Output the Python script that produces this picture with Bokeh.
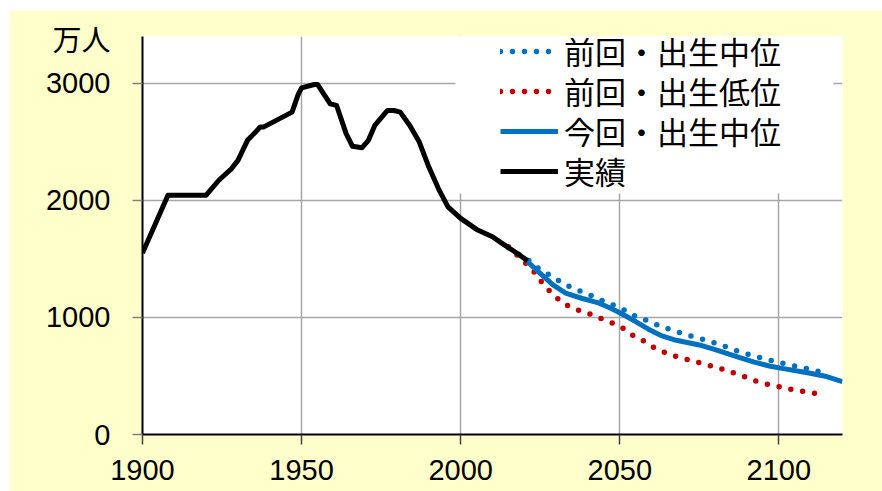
from bokeh.plotting import figure
from bokeh.models import (Range1d, FixedTicker, Legend, LegendItem, BoxAnnotation,
                          LinearAxis)
from bokeh.embed import file_html
from bokeh.resources import INLINE

# ---- data, unit: 万人 ----
years_actual = [1900, 1908, 1920, 1924, 1928, 1930, 1933, 1937, 1938, 1947, 1949, 1950,
                1954, 1955, 1959, 1961, 1964, 1966, 1969, 1971, 1973, 1977, 1979, 1981,
                1984, 1987, 1990, 1993, 1996, 2000, 2005, 2010, 2013, 2017, 2021]
pop_actual = [1550, 2044, 2044, 2172, 2272, 2342, 2513, 2626, 2626, 2754, 2910, 2961,
              2990, 2990, 2825, 2811, 2570, 2462, 2450, 2513, 2640, 2768, 2768, 2754,
              2640, 2498, 2285, 2101, 1945, 1846, 1752, 1689, 1633, 1561, 1485]

years_now_mid = [2021, 2025, 2029, 2033, 2038, 2043, 2047, 2050, 2055, 2059, 2063, 2067,
                 2075, 2080, 2086, 2092, 2097, 2101, 2109, 2115, 2120]
pop_now_mid = [1476, 1377, 1278, 1207, 1164, 1127, 1080, 1040, 965, 900, 845, 810,
               765, 725, 672, 620, 585, 565, 527, 495, 452]

years_prev_mid = [2015, 2022, 2025, 2029, 2032, 2036, 2040, 2043, 2047, 2051, 2054, 2058,
                  2062, 2066, 2070, 2074, 2078, 2082, 2085, 2089, 2093, 2097, 2101, 2105,
                  2109, 2113]
pop_prev_mid = [1595, 1476, 1405, 1348, 1292, 1241, 1201, 1161, 1118, 1070, 1022, 980,
                934, 894, 860, 829, 798, 764, 730, 696, 664, 636, 611, 585, 562, 537]

years_prev_low = [2015, 2018, 2021, 2024, 2026, 2029, 2032, 2036, 2040, 2043, 2047, 2051,
                  2054, 2058, 2061, 2065, 2069, 2073, 2077, 2081, 2085, 2089, 2092, 2096,
                  2100, 2104, 2108, 2113]
pop_prev_low = [1604, 1525, 1448, 1363, 1278, 1199, 1122, 1071, 1036, 1002, 960, 909,
                849, 792, 738, 690, 656, 627, 599, 568, 534, 496, 462, 431,
                409, 386, 366, 345]

x_ticks = [1900, 1950, 2000, 2050, 2100]
y_ticks = [0, 1000, 2000, 3000]
series_labels = ["前回・出生中位", "前回・出生低位", "今回・出生中位", "実績"]
unit_label = "万人"
unit_label_level = 3360   # where the unit text sits along the y axis

# ---- styles ----
BLUE = "#0070C0"
RED = "#C00000"
YELLOW = "#FFFFCC"
GRID = "#A6A6A6"
CJK = "Noto Sans CJK JP"
NUM = "Liberation Sans, Noto Sans CJK JP"

p = figure(width=873, height=481, output_backend="svg", toolbar_location=None,
           x_range=Range1d(1900, 2120), y_range=Range1d(0, 3400),
           min_border_left=133, min_border_right=40, min_border_top=26,
           min_border_bottom=57)
p.margin = (10, 0, 0, 9)
p.background_fill_color = "white"
p.border_fill_color = YELLOW
p.outline_line_color = None

r_low = p.line(years_prev_low, pop_prev_low, line_color=RED, line_width=5.5,
               line_dash="0 12", line_cap="round")
r_pmid = p.line(years_prev_mid, pop_prev_mid, line_color=BLUE, line_width=5.5,
                line_dash="0 12", line_cap="round")
r_now = p.line(years_now_mid, pop_now_mid, line_color=BLUE, line_width=5,
               line_join="round")
r_act = p.line(years_actual, pop_actual, line_color="black", line_width=5,
               line_join="round")

# x axis
xa = p.xaxis[0]
xa.ticker = FixedTicker(ticks=x_ticks)
xa.axis_line_color = "black"
xa.axis_line_width = 2
xa.major_tick_in = 0
xa.major_tick_out = 10
xa.major_tick_line_width = 1.5
xa.major_tick_line_color = "#404040"
xa.minor_tick_line_color = None
xa.major_label_text_font = NUM
xa.major_label_text_font_size = "29px"
xa.major_label_text_color = "black"
xa.major_label_standoff = 15

# y axis: line + tick marks only
ya = p.yaxis[0]
ya.ticker = FixedTicker(ticks=y_ticks)
ya.axis_line_color = "black"
ya.axis_line_width = 2
ya.major_tick_in = 0
ya.major_tick_out = 10
ya.major_tick_line_width = 1.5
ya.major_tick_line_color = "#808080"
ya.minor_tick_line_color = None
ya.major_label_overrides = {t: "" for t in y_ticks}
ya.major_label_standoff = 0

# y tick labels plus unit text, on a second (bare) axis
label_axis = LinearAxis(ticker=FixedTicker(ticks=y_ticks + [unit_label_level]),
                        major_label_overrides={unit_label_level: unit_label},
                        axis_line_color=None, major_tick_line_color=None,
                        minor_tick_line_color=None, major_tick_in=0, major_tick_out=0,
                        major_label_standoff=22, major_label_text_font=NUM,
                        major_label_text_font_size="29px",
                        major_label_text_color="black")
p.add_layout(label_axis, "left")

p.xgrid.ticker = FixedTicker(ticks=x_ticks)
p.ygrid.ticker = FixedTicker(ticks=y_ticks)
p.grid.grid_line_color = GRID
p.grid.grid_line_width = 1.5

# white legend panel (screen units, relative to the frame)
p.add_layout(BoxAnnotation(left=313, right=691, bottom=241, top=402,
                           left_units="screen", right_units="screen",
                           bottom_units="screen", top_units="screen",
                           fill_color="white", fill_alpha=1.0, line_alpha=0))

# legend: one single-row legend per entry, stacked at a fixed row pitch
legend_renderers = [r_pmid, r_low, r_now, r_act]
LEG_X, LEG_TOP_ROW_Y, ROW_PITCH = 358, 361, 40
for i, (lab, rend) in enumerate(zip(series_labels, legend_renderers)):
    p.add_layout(Legend(items=[LegendItem(label=lab, renderers=[rend])],
                        location=(LEG_X, LEG_TOP_ROW_Y - i * ROW_PITCH),
                        orientation="vertical",
                        label_text_font=CJK, label_text_font_size="31px",
                        label_text_color="black", glyph_width=58, glyph_height=36,
                        label_height=36, label_standoff=6, spacing=0, padding=0,
                        margin=0, background_fill_alpha=0, border_line_color=None))

open("out.html", "w").write(file_html(p, INLINE))
